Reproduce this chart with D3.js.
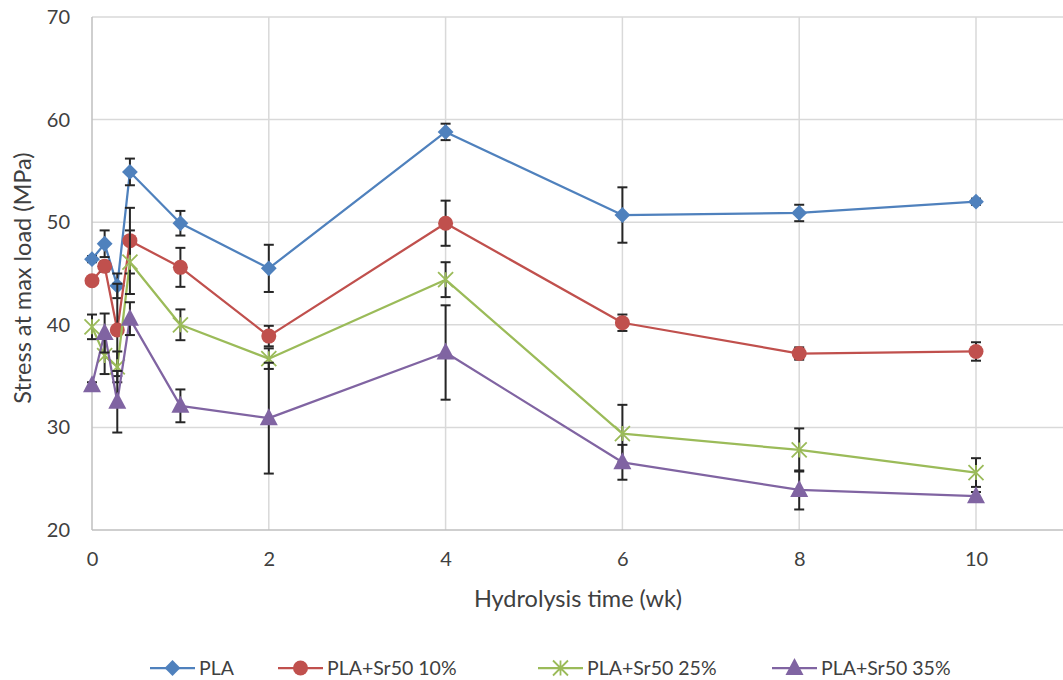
<!DOCTYPE html>
<html><head><meta charset="utf-8">
<script src="https://cdn.jsdelivr.net/npm/d3@7"></script>
<style>
html,body{margin:0;padding:0;background:#fff;}
svg{display:block;font-family:Lato,"Open Sans",sans-serif;}
</style></head>
<body><svg id="c" width="1063" height="680"></svg>
<script>
const weeks = [0, 0.143, 0.286, 0.429, 1, 2, 4, 6, 8, 10];
const seriesNames = ["PLA", "PLA+Sr50 10%", "PLA+Sr50 25%", "PLA+Sr50 35%"];
const pla      = [46.4, 47.9, 43.8, 54.9, 49.9, 45.5, 58.8, 50.7, 50.9, 52.0];
const plaErr   = [0.3, 1.3, 1.2, 1.3, 1.2, 2.3, 0.8, 2.7, 0.8, 0.3];
const sr10     = [44.3, 45.7, 39.5, 48.2, 45.6, 38.9, 49.9, 40.2, 37.2, 37.4];
const sr10Err  = [0.3, 0.5, 4.5, 3.2, 1.9, 1.0, 2.2, 0.8, 0.6, 0.9];
const sr25     = [39.8, 37.0, 35.9, 46.1, 40.0, 36.7, 44.4, 29.4, 27.8, 25.6];
const sr25Err  = [1.2, 1.8, 1.5, 3.1, 1.5, 1.0, 1.7, 2.8, 2.1, 1.4];
const sr35     = [34.1, 39.2, 32.5, 40.6, 32.1, 30.9, 37.3, 26.6, 23.9, 23.3];
const sr35Err  = [0.3, 1.9, 3.0, 1.6, 1.6, 5.4, 4.6, 1.7, 1.9, 0.4];
const xTicks = [0, 2, 4, 6, 8, 10];
const yTicks = [20, 30, 40, 50, 60, 70];
const colors = ["#4F81BD", "#C0504D", "#9BBB59", "#8064A2"];
const markers = ["diamond", "circle", "star", "triangle"];
const values = [pla, sr10, sr25, sr35];
const errors = [plaErr, sr10Err, sr25Err, sr35Err];

const svg = d3.select("#c");
const L = 92, T = 17, B = 530, R = 1063;
const x = d3.scaleLinear().domain([0, 11]).range([L, L + 11 * 88.4]);
const y = d3.scaleLinear().domain([20, 70]).range([B, T]);
const textCol = "#404040";
const FONT = 'Lato,"Open Sans",sans-serif';

// gridlines
const g = svg.append("g");
g.selectAll("line.h").data(yTicks.slice(1)).join("line")
  .attr("x1", L).attr("x2", R).attr("y1", d => y(d)).attr("y2", d => y(d))
  .attr("stroke", "#d9d9d9").attr("stroke-width", 1.5);
g.selectAll("line.v").data(xTicks.slice(1)).join("line")
  .attr("y1", T).attr("y2", B).attr("x1", d => x(d)).attr("x2", d => x(d))
  .attr("stroke", "#d9d9d9").attr("stroke-width", 1.5);
g.append("line").attr("x1", L).attr("x2", L).attr("y1", T).attr("y2", B)
  .attr("stroke", "#bfbfbf").attr("stroke-width", 1.5);
g.append("line").attr("x1", L).attr("x2", R).attr("y1", B).attr("y2", B)
  .attr("stroke", "#bfbfbf").attr("stroke-width", 1.5);

const yAxis = svg.append("g").attr("transform", `translate(${L},0)`)
  .call(d3.axisLeft(y).tickValues(yTicks).tickSize(0).tickPadding(22));
const xAxis = svg.append("g").attr("transform", `translate(0,${B})`)
  .call(d3.axisBottom(x).tickValues(xTicks).tickSize(0).tickPadding(22));
[yAxis, xAxis].forEach(a => {
  a.select(".domain").remove();
  a.selectAll("text").attr("fill", textCol).style("font-size", "20px")
    .style("font-family", FONT);
});

svg.append("text").attr("x", 578).attr("y", 607).attr("text-anchor", "middle")
  .attr("fill", textCol).style("font-size", "23.5px").text("Hydrolysis time (wk)");
svg.append("text").attr("transform", "translate(31,278) rotate(-90)")
  .attr("text-anchor", "middle").attr("fill", textCol).style("font-size", "23.5px")
  .text("Stress at max load (MPa)");

function drawMarker(sel, type, color, cx, cy) {
  if (type === "diamond") {
    sel.append("path").attr("d", d3.symbol().type(d3.symbolSquare).size(125)())
      .attr("transform", `translate(${cx},${cy}) rotate(45)`).attr("fill", color);
  } else if (type === "circle") {
    sel.append("circle").attr("cx", cx).attr("cy", cy).attr("r", 7.5).attr("fill", color);
  } else if (type === "triangle") {
    sel.append("path").attr("d", `M${cx},${cy - 10}L${cx + 9},${cy + 7}L${cx - 9},${cy + 7}Z`)
      .attr("fill", color);
  } else if (type === "star") {
    const s = 7.5;
    sel.append("path")
      .attr("d", `M${cx - s},${cy - s}L${cx + s},${cy + s}M${cx - s},${cy + s}L${cx + s},${cy - s}M${cx},${cy - s}L${cx},${cy + s}`)
      .attr("stroke", color).attr("stroke-width", 1.8).attr("fill", "none");
  }
}

const line = d3.line().x((d, i) => x(weeks[i])).y(d => y(d));
values.forEach((vals, si) => {
  const sg = svg.append("g");
  sg.append("path").datum(vals).attr("d", line).attr("fill", "none")
    .attr("stroke", colors[si]).attr("stroke-width", 2.25).attr("stroke-linejoin", "round");
  const eg = sg.append("g").attr("stroke", "#262626").attr("stroke-width", 2);
  vals.forEach((v, i) => {
    const e = errors[si][i];
    const cx = x(weeks[i]);
    eg.append("line").attr("x1", cx).attr("x2", cx).attr("y1", y(v + e)).attr("y2", y(v - e));
    eg.append("line").attr("x1", cx - 5).attr("x2", cx + 5).attr("y1", y(v + e)).attr("y2", y(v + e));
    eg.append("line").attr("x1", cx - 5).attr("x2", cx + 5).attr("y1", y(v - e)).attr("y2", y(v - e));
  });
  vals.forEach((v, i) => drawMarker(sg, markers[si], colors[si], x(weeks[i]), y(v)));
});

// legend
const legX = [150, 278, 538, 772];
const legY = 668;
seriesNames.forEach((n, si) => {
  const lg = svg.append("g");
  lg.append("line").attr("x1", legX[si]).attr("x2", legX[si] + 45).attr("y1", legY).attr("y2", legY)
    .attr("stroke", colors[si]).attr("stroke-width", 2.25);
  drawMarker(lg, markers[si], colors[si], legX[si] + 22.5, legY);
  lg.append("text").attr("x", legX[si] + 49).attr("y", legY).attr("dy", "0.35em")
    .attr("fill", textCol).style("font-size", "19.5px").text(n);
});
</script></body></html>
